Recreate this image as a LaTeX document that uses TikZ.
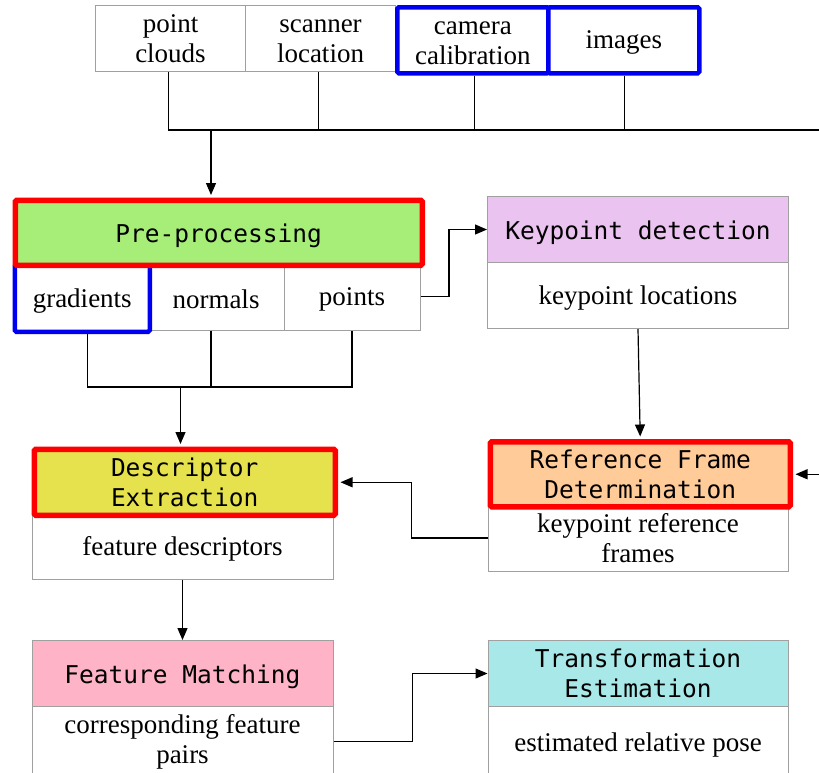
\documentclass[tikz,border=0pt]{standalone}
\usepackage{fontspec}
\setmainfont{Liberation Serif}
\newfontfamily\seriff{Liberation Serif}
\newfontfamily\monof{DejaVu Sans Mono}
\usetikzlibrary{arrows.meta}
\definecolor{cgreen}{HTML}{A6EE78}
\definecolor{cpurple}{HTML}{EBC3F0}
\definecolor{corange}{HTML}{FFCB99}
\definecolor{cyellow}{HTML}{E6E24D}
\definecolor{cpink}{HTML}{FFB3C6}
\definecolor{ccyan}{HTML}{A8E8E8}
\definecolor{cellgray}{HTML}{A0A0A0}
\definecolor{cblue}{HTML}{0000F0}
\newcommand{\dn}[1]{\raisebox{-3pt}[\height][\depth]{#1}}
\begin{document}
\begin{tikzpicture}[x=1pt,y=-1pt,
  cell/.style={draw=cellgray, line width=1pt, fill=white, inner sep=0pt,
    anchor=north west, align=center, font=\seriff\fontsize{27}{30}\selectfont},
  title/.style={cell, font=\monof\fontsize{24.5}{29.5}\selectfont},
  redb/.style={draw=red, line width=5.5pt, rounded corners=1.5pt},
  blueb/.style={draw=cblue, line width=4.5pt, rounded corners=1.5pt},
  conn/.style={draw=black, line width=1.2pt},
  arr/.style={conn, -{Triangle[length=12pt,width=10pt]}, shorten >=2.5pt}]
\useasboundingbox (0,0) rectangle (819,772);
\clip (0,0) rectangle (819,772);
\fill[white] (0,0) rectangle (819,772);

% top row
\node[cell, minimum width=150pt, minimum height=66pt] (pc) at (95,5) {point\\clouds};
\node[cell, minimum width=150pt, minimum height=66pt] (sl) at (245,5) {\vphantom{l}scanner\\location};
\node[cell, blueb, minimum width=151pt, minimum height=66pt] (cc) at (395,5) {\vphantom{l}camera\\calibration};
\node[cell, blueb, minimum width=151pt, minimum height=66pt] (im) at (546,5) {\raisebox{-2pt}[\height][\depth]{images}};

% pre-processing
\node[cell, minimum width=136pt, minimum height=67pt] (norm) at (147.5,262.5) {\dn{normals}};
\node[cell, minimum width=136pt, minimum height=67pt] (pts) at (283.5,262.5) {\dn{points}};
\node[cell, blueb, minimum width=135pt, minimum height=67pt] (grad) at (12.5,262.5) {\dn{gradients}};
\node[title, redb, fill=cgreen, minimum width=407pt, minimum height=65pt] (pre) at (12.5,197.5) {\dn{Pre-processing}};

% keypoint detection
\node[title, fill=cpurple, minimum width=301pt, minimum height=66pt] (kd) at (487,196) {\dn{Keypoint detection}};
\node[cell, minimum width=301pt, minimum height=66pt] (kl) at (487,262) {\dn{keypoint locations}};

% descriptor extraction
\node[cell, minimum width=301pt, minimum height=66pt] (fd) at (31.5,512.5) {\dn{feature descriptors}};
\node[title, redb, fill=cyellow, minimum width=301pt, minimum height=66pt] (de) at (31.5,446.5) {Descriptor\\Extraction};

% reference frame
\node[cell, minimum width=300pt, minimum height=67pt] (rk) at (487.5,504) {keypoint reference\\frames};
\node[title, redb, fill=corange, minimum width=300pt, minimum height=65pt] (rf) at (487.5,439) {Reference Frame\\Determination};

% feature matching
\node[title, fill=cpink, minimum width=301pt, minimum height=66pt] (fm) at (31.5,640) {\dn{Feature Matching}};
\node[cell, minimum width=301pt, minimum height=70pt] (cp) at (31.5,706) {corresponding feature\\pairs};

% transformation estimation
\node[title, fill=ccyan, minimum width=300pt, minimum height=66pt] (te) at (487.5,640) {Transformation\\Estimation};
\node[cell, minimum width=300pt, minimum height=70pt] (ep) at (487.5,706) {\dn{estimated relative pose}};

% coordinates
\coordinate (bus) at (211,130);
\coordinate (redge) at (819,0);
\coordinate (sb) at (180.5,387);

% connectors top
\draw[conn] ([xshift=-2pt]pc.south) -- ([xshift=-2pt]pc.south |- bus) -- (redge |- bus);
\draw[conn] ([xshift=-2pt]sl.south) -- ([xshift=-2pt]sl.south |- bus);
\draw[conn] ([xshift=2pt]cc.south) -- ([xshift=2pt]cc.south |- bus);
\draw[conn] ([xshift=1pt]im.south) -- ([xshift=1pt]im.south |- bus);
\draw[arr] (bus) -- (bus |- pre.north);

% connectors from sub-boxes
\draw[conn] ([xshift=5pt]grad.south) -- ([xshift=5pt]grad.south |- sb) -- (pts.south |- sb) -- (pts.south);
\draw[conn] ([xshift=-5pt]norm.south) -- ([xshift=-5pt]norm.south |- sb);
\draw[arr] (sb) -- (sb |- de.north);

% points -> keypoint detection
\draw[arr, shorten >=0pt] (pts.east) -- ++(28.5,0) |- (kd.west);

% keypoint locations -> reference frame
\draw[arr] (kl.south) -- (rf.north);

% right edge -> reference frame
\draw[arr] (redge |- rf.east) -- (rf.east);

% keypoint reference frames -> descriptor extraction
\draw[arr] (rk.west) -- ++(-76,0) |- (de.east);

% feature descriptors -> feature matching
\draw[arr, shorten >=0pt] (fd.south) -- (fm.north);

% corresponding pairs -> transformation estimation
\draw[arr, shorten >=0pt] (cp.east) -- ++(79,0) |- (te.west);
\end{tikzpicture}
\end{document}
